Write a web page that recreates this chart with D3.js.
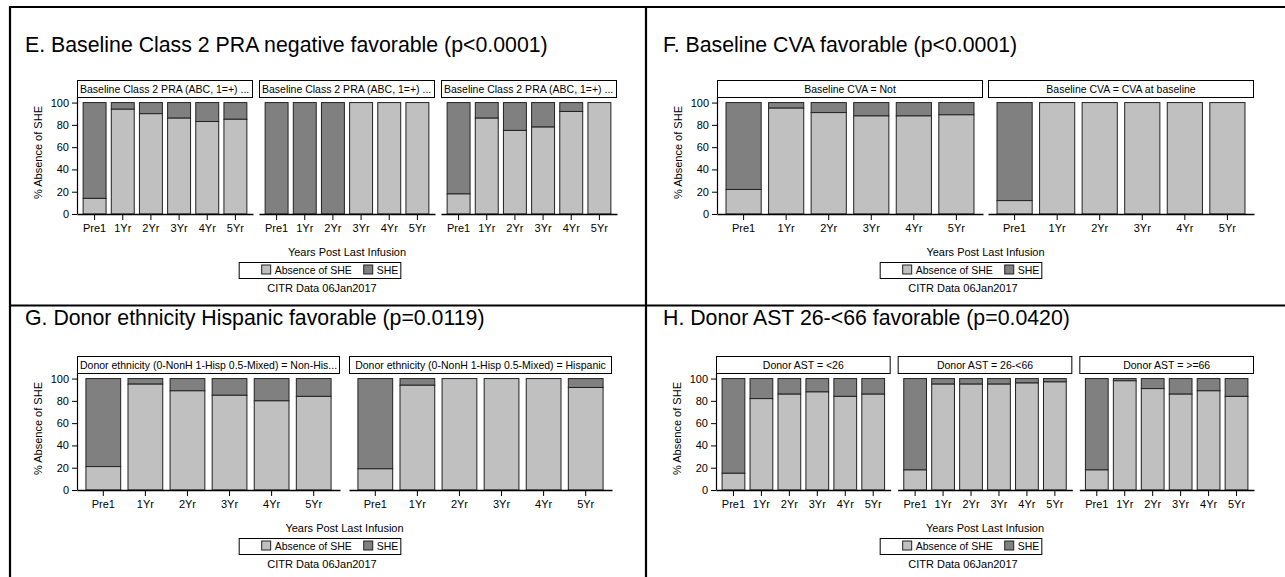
<!DOCTYPE html>
<html>
<head>
<meta charset="utf-8">
<script src="https://cdn.jsdelivr.net/npm/d3@7"></script>
<style>
  body { margin: 0; background: #fff; }
  text { font-family: Arial, "Liberation Sans", sans-serif; fill: #000; }
</style>
</head>
<body>
<div id="chart"></div>
<script>
// categories and ticks
const years = ["Pre1", "1Yr", "2Yr", "3Yr", "4Yr", "5Yr"];
const yTicks = [0, 20, 40, 60, 80, 100];
const legendLabels = ["Absence of SHE", "SHE"];
const footnote = "CITR  Data 06Jan2017";
const xTitle = "Years Post Last Infusion";
const yTitle = "% Absence of SHE";

// panel titles
const titleE = "E. Baseline Class 2 PRA negative favorable (p<0.0001)";
const titleF = "F. Baseline CVA favorable (p<0.0001)";
const titleG = "G. Donor ethnicity Hispanic favorable (p=0.0119)";
const titleH = "H. Donor AST 26-<66 favorable (p=0.0420)";

// facet strip labels
const stripsE = ["Baseline Class 2 PRA (ABC, 1=+) ...", "Baseline Class 2 PRA (ABC, 1=+) ...", "Baseline Class 2 PRA (ABC, 1=+) ..."];
const stripsF = ["Baseline CVA = Not", "Baseline CVA = CVA at baseline"];
const stripsG = ["Donor ethnicity (0-NonH 1-Hisp 0.5-Mixed) = Non-His...", "Donor ethnicity (0-NonH 1-Hisp 0.5-Mixed) = Hispanic"];
const stripsH = ["Donor AST = <26", "Donor AST = 26-<66", "Donor AST = >=66"];

// % absence of SHE per facet (SHE = 100 - absence)
const absenceE = [[14, 94, 90, 86, 83, 85], [0, 0, 0, 100, 100, 100], [18, 86, 75, 78, 92, 100]];
const absenceF = [[22, 95, 91, 88, 88, 89], [12, 100, 100, 100, 100, 100]];
const absenceG = [[21, 95, 89, 85, 80, 84], [19, 94, 100, 100, 100, 92]];
const absenceH = [[15, 82, 86, 88, 84, 86], [18, 95, 95, 95, 96, 97], [18, 98, 91, 86, 89, 84]];

const LIGHT = "#c0c0c0", DARK = "#808080";

const svg = d3.select("#chart").append("svg")
    .attr("width", 1285).attr("height", 577);
svg.append("rect").attr("width", 1285).attr("height", 577).attr("fill", "#fff");

// frame lines
const frame = svg.append("g").attr("stroke", "#000").attr("stroke-width", 2.2);
frame.append("line").attr("x1", 9).attr("x2", 1285).attr("y1", 7).attr("y2", 7);
frame.append("line").attr("x1", 10).attr("x2", 10).attr("y1", 6).attr("y2", 577);
frame.append("line").attr("x1", 646).attr("x2", 646).attr("y1", 6).attr("y2", 577);
frame.append("line").attr("x1", 10).attr("x2", 1285).attr("y1", 305.5).attr("y2", 305.5);

const drawPanel = (opt) => {
    const { title, titleX, titleY, strips, absence, left, right, gap, top, centerX } = opt;
    const g = svg.append("g");

    g.append("text").attr("x", titleX).attr("y", titleY)
        .style("font-size", "21.3px").text(title);

    const stripTop = top, stripH = 17;
    const plotTop = top + 17, plotBottom = top + 134;
    const y = d3.scaleLinear().domain([0, 105]).range([plotBottom, plotTop]);

    const n = strips.length;
    const fw = (right - left - gap * (n - 1)) / n;

    strips.forEach((s, i) => {
        const fx = left + i * (fw + gap);
        const x = d3.scaleBand().domain(years).range([fx, fx + fw])
            .paddingInner(0.15).paddingOuter(0.2);

        // strip
        g.append("rect").attr("x", fx + 0.5).attr("y", stripTop + 0.5)
            .attr("width", fw - 1).attr("height", stripH)
            .attr("fill", "#fff").attr("stroke", "#000").attr("stroke-width", 1);
        const trunc = s.endsWith("...");
        g.append("text")
            .attr("x", trunc ? fx + 3 : fx + fw / 2)
            .attr("y", stripTop + 13)
            .attr("text-anchor", trunc ? "start" : "middle")
            .style("font-size", "10.5px").text(s);

        const rows = years.map((yr, k) => ({ yr, a: absence[i][k] }));
        const bars = g.append("g");
        // SHE segment
        bars.selectAll("rect.she").data(rows.filter(d => d.a < 100)).join("rect")
            .attr("class", "she")
            .attr("x", d => x(d.yr) + 0.5).attr("width", x.bandwidth() - 1)
            .attr("y", d => y(100)).attr("height", d => y(d.a) - y(100))
            .attr("fill", DARK).attr("stroke", "#222").attr("stroke-width", 1);
        // absence segment
        bars.selectAll("rect.abs").data(rows.filter(d => d.a > 0)).join("rect")
            .attr("class", "abs")
            .attr("x", d => x(d.yr) + 0.5).attr("width", x.bandwidth() - 1)
            .attr("y", d => y(d.a)).attr("height", d => y(0) - y(d.a))
            .attr("fill", LIGHT).attr("stroke", "#222").attr("stroke-width", 1);

        // x axis
        const xa = g.append("g").attr("transform", `translate(0,${plotBottom})`)
            .call(d3.axisBottom(x).tickSize(6).tickSizeOuter(0).tickPadding(4));
        xa.select(".domain").attr("stroke", "#000").attr("stroke-width", 1.5);
        xa.selectAll(".tick line").attr("stroke", "#000");
        xa.selectAll("text").style("font-size", "11px")
            .style("font-family", "Arial, 'Liberation Sans', sans-serif");

        if (i === 0) {
            const ya = g.append("g").attr("transform", `translate(${fx},0)`)
                .call(d3.axisLeft(y).tickValues(yTicks).tickSize(5).tickSizeOuter(0).tickPadding(3));
            ya.select(".domain").attr("stroke", "#000").attr("stroke-width", 1.2);
            ya.selectAll(".tick line").attr("stroke", "#000");
            ya.selectAll("text").style("font-size", "11px")
                .style("font-family", "Arial, 'Liberation Sans', sans-serif");
            g.append("text")
                .attr("transform", `translate(${fx - 35},${(plotTop + plotBottom) / 2 - 3}) rotate(-90)`)
                .attr("text-anchor", "middle").style("font-size", "11px").text(yTitle);
        }
    });

    // x title
    g.append("text").attr("x", (left + right) / 2).attr("y", top + 176)
        .attr("text-anchor", "middle").style("font-size", "11px").text(xTitle);

    // legend
    const lg = g.append("g");
    const lbox = lg.append("rect").attr("fill", "#fff").attr("stroke", "#000").attr("stroke-width", 1);
    const items = lg.append("g");
    let cx = 0;
    legendLabels.forEach((lab, k) => {
        items.append("rect").attr("x", cx).attr("y", -9).attr("width", 9).attr("height", 9)
            .attr("fill", k === 0 ? LIGHT : DARK).attr("stroke", "#222");
        const t = items.append("text").attr("x", cx + 13).attr("y", 0)
            .style("font-size", "10.5px").text(lab);
        cx += 13 + t.node().getComputedTextLength() + 12;
    });
    const iw = cx - 12;
    const lx = centerX + 10 - iw / 2;
    const ly = top + 194;
    items.attr("transform", `translate(${lx},${ly})`);
    lbox.attr("x", lx - 22.5).attr("y", ly - 11.5).attr("width", iw + 25).attr("height", 16);

    g.append("text").attr("x", centerX + 2).attr("y", top + 212)
        .attr("text-anchor", "middle").style("font-size", "11px").text(footnote);
};

drawPanel({ title: titleE, titleX: 25, titleY: 52, strips: stripsE, absence: absenceE,
    left: 77, right: 617, gap: 6, top: 80, centerX: 320 });
drawPanel({ title: titleF, titleX: 663, titleY: 52, strips: stripsF, absence: absenceF,
    left: 717, right: 1254, gap: 5, top: 80, centerX: 961 });
drawPanel({ title: titleG, titleX: 25, titleY: 325, strips: stripsG, absence: absenceG,
    left: 77, right: 612, gap: 9, top: 356, centerX: 320 });
drawPanel({ title: titleH, titleX: 663, titleY: 325, strips: stripsH, absence: absenceH,
    left: 716, right: 1254, gap: 7, top: 356, centerX: 961 });
</script>
</body>
</html>
